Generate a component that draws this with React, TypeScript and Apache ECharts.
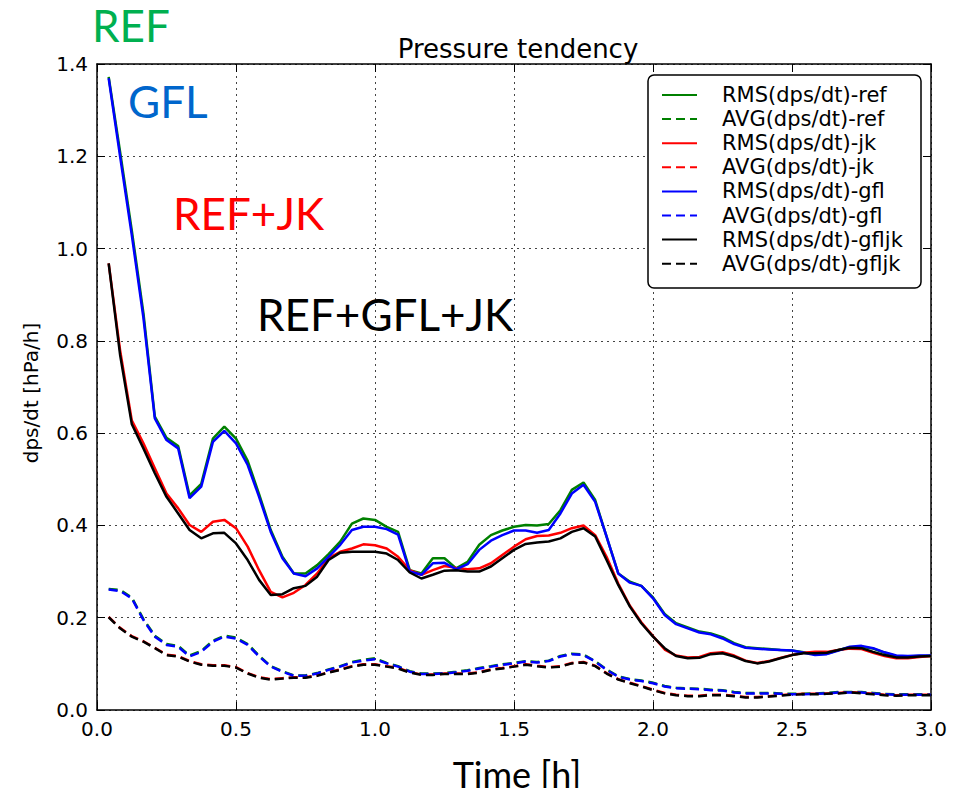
import React, { useEffect, useRef } from "react";
import * as echarts from "echarts";

// time in hours (2.5-min steps)
const time = [
  0.042, 0.083, 0.125, 0.167, 0.208, 0.25, 0.292, 0.333, 0.375, 0.417, 0.458, 0.5,
  0.542, 0.583, 0.625, 0.667, 0.708, 0.75, 0.792, 0.833, 0.875, 0.917, 0.958, 1.0,
  1.042, 1.083, 1.125, 1.167, 1.208, 1.25, 1.292, 1.333, 1.375, 1.417, 1.458, 1.5,
  1.542, 1.583, 1.625, 1.667, 1.708, 1.75, 1.792, 1.833, 1.875, 1.917, 1.958, 2.0,
  2.042, 2.083, 2.125, 2.167, 2.208, 2.25, 2.292, 2.333, 2.375, 2.417, 2.458, 2.5,
  2.542, 2.583, 2.625, 2.667, 2.708, 2.75, 2.792, 2.833, 2.875, 2.917, 2.958, 3.0,
];

const rmsRef = [
  1.372, 1.21, 1.04, 0.86, 0.636, 0.59, 0.572, 0.465, 0.49, 0.588, 0.614, 0.588,
  0.54, 0.468, 0.39, 0.332, 0.296, 0.296, 0.314, 0.338, 0.365, 0.404, 0.415, 0.412,
  0.397, 0.386, 0.303, 0.296, 0.329, 0.329, 0.307, 0.321, 0.358, 0.379, 0.389, 0.397,
  0.401, 0.4, 0.403, 0.433, 0.477, 0.493, 0.455, 0.376, 0.296, 0.278, 0.269, 0.244,
  0.208, 0.188, 0.179, 0.17, 0.166, 0.158, 0.145, 0.136, 0.134, 0.132, 0.13, 0.129,
  0.125, 0.121, 0.122, 0.13, 0.136, 0.137, 0.133, 0.124, 0.117, 0.116, 0.117, 0.117,
];
const avgRef = [
  0.262, 0.26, 0.244, 0.197, 0.161, 0.143, 0.139, 0.118, 0.128, 0.15, 0.161, 0.157,
  0.143, 0.118, 0.095, 0.084, 0.075, 0.075, 0.08, 0.088, 0.095, 0.104, 0.109, 0.112,
  0.102, 0.095, 0.084, 0.079, 0.079, 0.08, 0.083, 0.086, 0.091, 0.095, 0.099, 0.102,
  0.106, 0.104, 0.107, 0.117, 0.122, 0.12, 0.106, 0.088, 0.073, 0.067, 0.064, 0.059,
  0.052, 0.048, 0.047, 0.046, 0.044, 0.043, 0.039, 0.037, 0.037, 0.037, 0.036, 0.035,
  0.035, 0.036, 0.037, 0.039, 0.039, 0.039, 0.037, 0.035, 0.034, 0.034, 0.034, 0.034,
];
const rmsJk = [
  0.968, 0.78, 0.628, 0.578, 0.524, 0.469, 0.437, 0.401, 0.386, 0.408, 0.412, 0.394,
  0.354, 0.303, 0.256, 0.244, 0.254, 0.271, 0.296, 0.329, 0.343, 0.35, 0.359, 0.357,
  0.35, 0.332, 0.303, 0.293, 0.303, 0.312, 0.308, 0.305, 0.307, 0.318, 0.336, 0.354,
  0.37, 0.377, 0.378, 0.384, 0.394, 0.4, 0.379, 0.332, 0.274, 0.226, 0.19, 0.16,
  0.131, 0.118, 0.114, 0.115, 0.123, 0.125, 0.118, 0.107, 0.102, 0.106, 0.113, 0.119,
  0.124, 0.126, 0.126, 0.13, 0.133, 0.132, 0.124, 0.117, 0.112, 0.112, 0.115, 0.117,
];
const avgJk = [
  0.202, 0.178, 0.16, 0.149, 0.135, 0.12, 0.117, 0.106, 0.099, 0.097, 0.097, 0.093,
  0.08, 0.071, 0.067, 0.069, 0.071, 0.071, 0.075, 0.082, 0.088, 0.095, 0.099, 0.099,
  0.095, 0.091, 0.082, 0.077, 0.077, 0.079, 0.079, 0.079, 0.082, 0.088, 0.091, 0.095,
  0.099, 0.096, 0.093, 0.095, 0.102, 0.104, 0.096, 0.08, 0.067, 0.059, 0.052, 0.044,
  0.037, 0.033, 0.031, 0.031, 0.033, 0.033, 0.031, 0.028, 0.028, 0.03, 0.032, 0.034,
  0.035, 0.035, 0.036, 0.037, 0.039, 0.037, 0.035, 0.033, 0.032, 0.033, 0.033, 0.033,
];
const rmsGfl = [
  1.369, 1.2, 1.03, 0.85, 0.632, 0.585, 0.567, 0.459, 0.484, 0.581, 0.605, 0.578,
  0.531, 0.462, 0.386, 0.329, 0.296, 0.29, 0.307, 0.332, 0.358, 0.39, 0.397, 0.397,
  0.392, 0.38, 0.3, 0.293, 0.318, 0.319, 0.305, 0.316, 0.347, 0.367, 0.379, 0.389,
  0.389, 0.384, 0.39, 0.426, 0.469, 0.488, 0.451, 0.376, 0.296, 0.276, 0.269, 0.242,
  0.206, 0.186, 0.177, 0.168, 0.164, 0.155, 0.143, 0.135, 0.133, 0.131, 0.13, 0.129,
  0.124, 0.119, 0.121, 0.129, 0.137, 0.139, 0.134, 0.125, 0.118, 0.117, 0.118, 0.118,
];
const avgGfl = [
  0.261, 0.258, 0.242, 0.195, 0.159, 0.141, 0.137, 0.116, 0.126, 0.148, 0.159, 0.155,
  0.141, 0.116, 0.094, 0.083, 0.074, 0.074, 0.079, 0.087, 0.094, 0.103, 0.107, 0.11,
  0.101, 0.094, 0.083, 0.078, 0.078, 0.079, 0.082, 0.085, 0.09, 0.094, 0.098, 0.101,
  0.105, 0.103, 0.106, 0.116, 0.121, 0.119, 0.105, 0.087, 0.072, 0.066, 0.063, 0.058,
  0.051, 0.047, 0.046, 0.045, 0.043, 0.042, 0.038, 0.036, 0.036, 0.036, 0.035, 0.034,
  0.034, 0.035, 0.036, 0.038, 0.038, 0.038, 0.036, 0.034, 0.033, 0.033, 0.033, 0.033,
];
const rmsGfljk = [
  0.968, 0.77, 0.62, 0.567, 0.513, 0.462, 0.426, 0.39, 0.372, 0.383, 0.384, 0.361,
  0.325, 0.282, 0.249, 0.251, 0.264, 0.269, 0.289, 0.325, 0.341, 0.343, 0.343, 0.343,
  0.339, 0.325, 0.298, 0.285, 0.293, 0.302, 0.303, 0.3, 0.3, 0.311, 0.329, 0.347,
  0.36, 0.363, 0.365, 0.372, 0.386, 0.394, 0.376, 0.325, 0.271, 0.224, 0.188, 0.159,
  0.134, 0.117, 0.112, 0.113, 0.121, 0.123, 0.116, 0.106, 0.101, 0.105, 0.112, 0.119,
  0.123, 0.123, 0.124, 0.13, 0.135, 0.134, 0.126, 0.119, 0.114, 0.114, 0.116, 0.117,
];
const avgGfljk = [
  0.201, 0.177, 0.159, 0.148, 0.134, 0.119, 0.116, 0.105, 0.098, 0.096, 0.096, 0.092,
  0.079, 0.07, 0.066, 0.068, 0.07, 0.07, 0.074, 0.081, 0.087, 0.094, 0.098, 0.098,
  0.094, 0.09, 0.081, 0.076, 0.076, 0.078, 0.078, 0.078, 0.081, 0.087, 0.09, 0.094,
  0.098, 0.095, 0.092, 0.094, 0.101, 0.103, 0.095, 0.079, 0.066, 0.058, 0.051, 0.043,
  0.036, 0.032, 0.03, 0.03, 0.032, 0.032, 0.03, 0.027, 0.027, 0.029, 0.031, 0.033,
  0.034, 0.034, 0.035, 0.036, 0.038, 0.036, 0.034, 0.032, 0.031, 0.032, 0.032, 0.032,
];

const seriesNames = [
  "RMS(dps/dt)-ref",
  "AVG(dps/dt)-ref",
  "RMS(dps/dt)-jk",
  "AVG(dps/dt)-jk",
  "RMS(dps/dt)-gfl",
  "AVG(dps/dt)-gfl",
  "RMS(dps/dt)-gfljk",
  "AVG(dps/dt)-gfljk",
];
const seriesValues = [rmsRef, avgRef, rmsJk, avgJk, rmsGfl, avgGfl, rmsGfljk, avgGfljk];
const seriesColors = ["#008000", "#008000", "#ff0000", "#ff0000", "#0000ff", "#0000ff", "#000000", "#000000"];

const annotations = [
  { text: "REF", color: "#00b050" },
  { text: "GFL", color: "#0066cc" },
  { text: "REF+JK", color: "#ff0000" },
  { text: "REF+GFL+JK", color: "#000000" },
];
const annotationPos = [
  [92, 25],
  [128, 101],
  [173, 213],
  [257, 314],
];

const xAxisTitle = "Time [h]";
const yAxisTitle = "dps/dt [hPa/h]";
const chartTitle = "Pressure tendency";

const TICK_FONT = "DejaVu Sans";

export default function App() {
  const ref = useRef<HTMLDivElement>(null);
  useEffect(() => {
    if (!ref.current) return;
    const chart = echarts.init(ref.current, null, { renderer: "svg" });
    const axisCommon = {
      type: "value" as const,
      axisLine: { show: true, onZero: false, lineStyle: { color: "#000", width: 1.5 } },
      axisTick: { show: true, inside: true, length: 8, lineStyle: { color: "#000", width: 1 } },
    };
    const option: any = {
      animation: false,
      backgroundColor: "#fff",
      title: {
        text: chartTitle,
        left: 513,
        top: 31,
        textAlign: "center",
        textStyle: { fontFamily: TICK_FONT, fontSize: 26, fontWeight: "normal", color: "#000" },
      },
      grid: { left: 97, right: 31, top: 64, bottom: 86, show: false, outerBoundsMode: "none", containLabel: false },
      xAxis: [
        {
          ...axisCommon,
          position: "bottom",
          min: 0,
          max: 3,
          interval: 0.5,
          axisLabel: {
            color: "#000",
            fontFamily: TICK_FONT,
            fontSize: 20,
            margin: 9,
            formatter: (v: number) => v.toFixed(1),
          },
          splitLine: { show: true, lineStyle: { color: "#444", width: 1, type: [2, 4] } },
        },
        {
          ...axisCommon,
          position: "top",
          min: 0,
          max: 3,
          interval: 0.5,
          axisLabel: { show: false },
          splitLine: { show: false },
        },
      ],
      yAxis: [
        {
          ...axisCommon,
          position: "left",
          min: 0,
          max: 1.4,
          interval: 0.2,
          axisLabel: {
            color: "#000",
            fontFamily: TICK_FONT,
            fontSize: 20,
            margin: 9,
            formatter: (v: number) => v.toFixed(1),
          },
          splitLine: { show: true, lineStyle: { color: "#444", width: 1, type: [2, 4] } },
        },
        {
          ...axisCommon,
          position: "right",
          min: 0,
          max: 1.4,
          interval: 0.2,
          axisLabel: { show: false },
          splitLine: { show: false },
        },
      ],
      legend: {
        orient: "vertical",
        left: 661,
        top: 84.5,
        padding: 0,
        itemGap: 3.1,
        itemWidth: 35,
        itemHeight: 14,
        z: 20,
        data: seriesNames,
        itemStyle: { opacity: 0 },
        textStyle: {
          fontFamily: TICK_FONT,
          fontSize: 21,
          lineHeight: 21,
          color: "#000",
          padding: [0, 0, 0, 20],
        },
      },
      graphic: [
        {
          type: "rect",
          z: 15,
          shape: { x: 648, y: 75, width: 273, height: 213, r: 6 },
          style: { fill: "#fff", stroke: "#000", lineWidth: 1.5 },
        },
        {
          type: "text",
          z: 30,
          x: 517,
          y: 774,
          style: {
            text: xAxisTitle,
            fill: "#000",
            fontFamily: "Lato",
            fontSize: 36,
            align: "center",
            verticalAlign: "middle",
          },
        },
        {
          type: "text",
          z: 30,
          x: 31,
          y: 393,
          rotation: Math.PI / 2,
          style: {
            text: yAxisTitle,
            fill: "#000",
            fontFamily: TICK_FONT,
            fontSize: 20,
            align: "center",
            verticalAlign: "middle",
          },
        },
        ...annotations.map((a, i) => ({
          type: "text",
          z: 30,
          x: annotationPos[i][0],
          y: annotationPos[i][1],
          style: {
            text: a.text,
            fill: a.color,
            fontFamily: "Lato",
            fontSize: 44,
            lineHeight: 40,
            verticalAlign: "middle",
            align: "left",
          },
        })),
      ],
      series: seriesNames.map((name, i) => ({
        name,
        type: "line",
        xAxisIndex: 0,
        yAxisIndex: 0,
        symbol: "none",
        showSymbol: false,
        data: time.map((t, j) => [t, seriesValues[i][j]]),
        lineStyle: {
          color: seriesColors[i],
          width: 2.5,
          type: i % 2 === 1 ? [9, 5] : "solid",
        },
        itemStyle: { color: seriesColors[i] },
        z: 2 + i,
      })),
    };
    chart.setOption(option);
    return () => chart.dispose();
  }, []);
  return <div ref={ref} style={{ width: 962, height: 796, margin: -8 }} />;
}
